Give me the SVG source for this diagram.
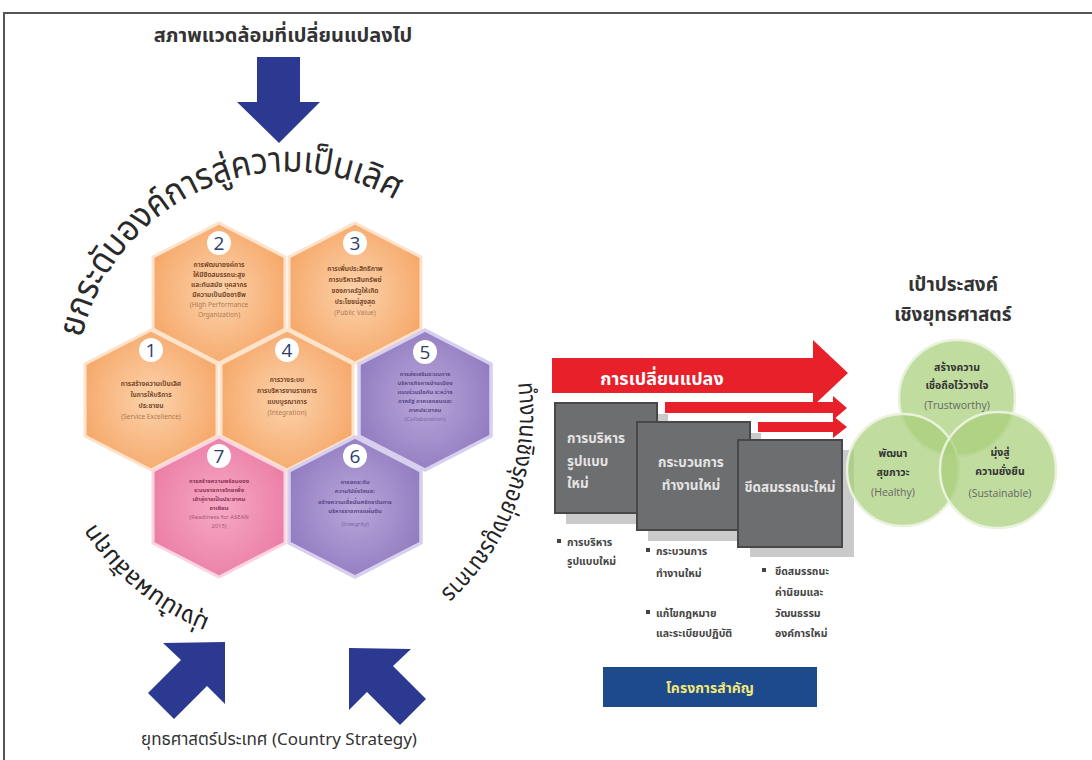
<svg xmlns="http://www.w3.org/2000/svg" width="1092" height="760" viewBox="0 0 1092 760">
<defs>
<style>
.th{font-family:"Noto Sans","Noto Sans Thai","Loma","Garuda","DejaVu Sans",sans-serif}
.hx{text-anchor:middle;font-weight:bold}
.en{font-weight:normal}
.num{font-family:"Open Sans","Liberation Sans",sans-serif;fill:#2c3e6b;text-anchor:middle}
.box{fill:#6d6e70;stroke:#48484a;stroke-width:2}
.shd{fill:#cacaca}
.bt{fill:#e3e3e3;font-weight:bold}
.bl{fill:#444;font-weight:bold}
.gc{fill:#a9ce7a;fill-opacity:0.72;stroke:#e8f2dc;stroke-width:2.5}
.gt{fill:#333;text-anchor:middle;font-weight:bold}
.ge{fill:#666;text-anchor:middle;font-family:"Open Sans","Liberation Sans",sans-serif}
</style>
<radialGradient id="gO" cx="50%" cy="50%" r="60%"><stop offset="0" stop-color="#fcd3ad"/><stop offset="1" stop-color="#f5a463"/></radialGradient>
<radialGradient id="gP" cx="50%" cy="50%" r="60%"><stop offset="0" stop-color="#b9a7da"/><stop offset="1" stop-color="#8d78be"/></radialGradient>
<radialGradient id="gK" cx="50%" cy="50%" r="60%"><stop offset="0" stop-color="#f6a9c4"/><stop offset="1" stop-color="#ea7aa2"/></radialGradient>
<polygon id="hex" points="0,-70 66,-36 66,36 0,70 -66,36 -66,-36"/>
<path id="pTop" d="M 82,338 A 212 212 0 0 1 400,203"/>
<path id="pLeft" d="M 210,618 A 240 240 0 0 1 94,522"/>
<path id="pRight" d="M 518,383 A 240 240 0 0 1 434,598"/>
</defs>
<rect width="1092" height="760" fill="#fff"/>
<path d="M4,760 V13 H1092" fill="none" stroke="#555" stroke-width="2"/>

<g id="top-label">
<text class="th" x="283" y="42" font-size="20" font-weight="bold" fill="#333" text-anchor="middle">สภาพแวดล้อมที่เปลี่ยนแปลงไป</text>
<polygon points="257,57 300,57 300,102 320,102 279,143 237,102 257,102" fill="#2b3990"/>
</g>

<g id="arc-texts">
<text class="th" font-size="36" fill="#2a2a2a"><textPath href="#pTop" textLength="398" lengthAdjust="spacingAndGlyphs">ยกระดับองค์การสู่ความเป็นเลิศ</textPath></text>
<text class="th" font-size="24" fill="#222"><textPath href="#pLeft" textLength="165" lengthAdjust="spacingAndGlyphs">มุ่งเน้นผลสัมฤทธิ์</textPath></text>
<text class="th" font-size="24" fill="#222"><textPath href="#pRight" textLength="232" lengthAdjust="spacingAndGlyphs">ทำงานเชิงรุกอย่างบูรณาการ</textPath></text>
</g>

<g id="hex2" transform="translate(219,293)">
<use href="#hex" fill="url(#gO)" stroke="#fde3cb" stroke-width="3"/>
<circle cx="0" cy="-50" r="12" fill="#fff"/><text class="num" y="-43" font-size="19">2</text>
<text class="th hx" fill="#7a4a2a" font-size="6.6"><tspan x="0" y="-26">การพัฒนาองค์การ</tspan><tspan x="0" y="-16">ให้มีขีดสมรรถนะสูง</tspan><tspan x="0" y="-6">และทันสมัย บุคลากร</tspan><tspan x="0" y="4">มีความเป็นมืออาชีพ</tspan><tspan class="en" x="0" y="14" fill="#b07a50">(High Performance</tspan><tspan class="en" x="0" y="24" fill="#b07a50">Organization)</tspan></text>
</g>
<g id="hex3" transform="translate(355,293)">
<use href="#hex" fill="url(#gO)" stroke="#fde3cb" stroke-width="3"/>
<circle cx="0" cy="-50" r="12" fill="#fff"/><text class="num" y="-43" font-size="19">3</text>
<text class="th hx" fill="#7a4a2a" font-size="6.6"><tspan x="0" y="-22">การเพิ่มประสิทธิภาพ</tspan><tspan x="0" y="-11">การบริหารสินทรัพย์</tspan><tspan x="0" y="0">ของภาครัฐให้เกิด</tspan><tspan x="0" y="11">ประโยชน์สูงสุด</tspan><tspan class="en" x="0" y="22" fill="#b07a50">(Public Value)</tspan></text>
</g>
<g id="hex1" transform="translate(151,400)">
<use href="#hex" fill="url(#gO)" stroke="#fde3cb" stroke-width="3"/>
<circle cx="0" cy="-50" r="12" fill="#fff"/><text class="num" y="-43" font-size="19">1</text>
<text class="th hx" fill="#7a4a2a" font-size="6.6"><tspan x="0" y="-14">การสร้างความเป็นเลิศ</tspan><tspan x="0" y="-3">ในการให้บริการ</tspan><tspan x="0" y="8">ประชาชน</tspan><tspan class="en" x="0" y="19" fill="#b07a50">(Service Excellence)</tspan></text>
</g>
<g id="hex4" transform="translate(287,400)">
<use href="#hex" fill="url(#gO)" stroke="#fde3cb" stroke-width="3"/>
<circle cx="0" cy="-50" r="12" fill="#fff"/><text class="num" y="-43" font-size="19">4</text>
<text class="th hx" fill="#7a4a2a" font-size="6.6"><tspan x="0" y="-18">การวางระบบ</tspan><tspan x="0" y="-7">การบริหารงานราชการ</tspan><tspan x="0" y="4">แบบบูรณาการ</tspan><tspan class="en" x="0" y="15" fill="#b07a50">(Integration)</tspan></text>
</g>
<g id="hex5" transform="translate(425,400)">
<use href="#hex" fill="url(#gP)" stroke="#d8cfee" stroke-width="3.5"/>
<circle cx="0" cy="-48" r="12" fill="#fff"/><text class="num" y="-41" font-size="19">5</text>
<text class="th hx" fill="#5a4a8a" font-size="5.9"><tspan x="0" y="-24">การส่งเสริมระบบการ</tspan><tspan x="0" y="-15">บริหารกิจการบ้านเมือง</tspan><tspan x="0" y="-6">แบบร่วมมือกัน ระหว่าง</tspan><tspan x="0" y="3">ภาครัฐ ภาคเอกชนและ</tspan><tspan x="0" y="12">ภาคประชาชน</tspan><tspan class="en" x="0" y="21" fill="#7b69a8">(Collaboration)</tspan></text>
</g>
<g id="hex7" transform="translate(219,507)">
<use href="#hex" fill="url(#gK)" stroke="#fbd3e1" stroke-width="3"/>
<circle cx="0" cy="-51" r="12" fill="#fff"/><text class="num" y="-44" font-size="19">7</text>
<text class="th hx" fill="#8b3658" font-size="5.9"><tspan x="0" y="-24">การสร้างความพร้อมของ</tspan><tspan x="0" y="-15">ระบบราชการไทยเพื่อ</tspan><tspan x="0" y="-6">เข้าสู่การเป็นประชาคม</tspan><tspan x="0" y="3">อาเซียน</tspan><tspan class="en" x="0" y="12" fill="#a8587a">(Readiness for ASEAN</tspan><tspan class="en" x="0" y="21" fill="#a8587a">2015)</tspan></text>
</g>
<g id="hex6" transform="translate(355,507)">
<use href="#hex" fill="url(#gP)" stroke="#d8cfee" stroke-width="3.5"/>
<circle cx="0" cy="-51" r="12" fill="#fff"/><text class="num" y="-44" font-size="19">6</text>
<text class="th hx" fill="#5a4a8a" font-size="5.9"><tspan x="0" y="-23">การยกระดับ</tspan><tspan x="0" y="-14">ความโปร่งใสและ</tspan><tspan x="0" y="-3">สร้างความเชื่อมั่นศรัทธาในการ</tspan><tspan x="0" y="6">บริหารราชการแผ่นดิน</tspan><tspan class="en" x="0" y="19" fill="#7b69a8">(Integrity)</tspan></text>
</g>

<g id="bottom-arrows" fill="#2b3990">
<polygon points="225,642 225,704 207,686 174,719 148,693 181,660 163,643"/>
<polygon points="349,648 349,710 367,692 400,725 426,699 393,666 411,649"/>
</g>
<text id="country-strategy" class="th" x="279" y="745" font-size="17" fill="#333" text-anchor="middle">ยุทธศาสตร์ประเทศ (Country Strategy)</text>

<g id="change-arrows" fill="#e8202a">
<polygon points="552,358 813,358 813,340 848,373 813,406 813,393 552,393"/>
<polygon points="665,402 833,402 833,396 847,408 833,420 833,413 665,413"/>
<polygon points="758,422 833,422 833,416 847,427 833,438 833,432 758,432"/>
</g>
<text class="th" x="662" y="385" font-size="18" font-weight="bold" fill="#fff" text-anchor="middle">การเปลี่ยนแปลง</text>

<g id="box1">
<rect class="shd" x="566" y="414" width="102" height="110"/>
<rect class="box" x="555" y="403" width="102" height="110"/>
<text class="th bt" font-size="13.5"><tspan x="567" y="443">การบริหาร</tspan><tspan x="567" y="466">รูปแบบ</tspan><tspan x="567" y="488">ใหม่</tspan></text>
</g>
<g id="box2">
<rect class="shd" x="648" y="433" width="113" height="108"/>
<rect class="box" x="637" y="422" width="113" height="108"/>
<text class="th bt" font-size="13.5" text-anchor="middle"><tspan x="691" y="467">กระบวนการ</tspan><tspan x="691" y="490">ทำงานใหม่</tspan></text>
</g>
<g id="box3">
<rect class="shd" x="750" y="450" width="104" height="107"/>
<rect class="box" x="738" y="440" width="104" height="107"/>
<text class="th bt" x="790" y="492" font-size="13.5" text-anchor="middle">ขีดสมรรถนะใหม่</text>
</g>

<g id="bullets">
<rect x="557" y="539" width="4" height="4" fill="#444"/>
<text class="th bl" font-size="10.5"><tspan x="567" y="546">การบริหาร</tspan><tspan x="567" y="565">รูปแบบใหม่</tspan></text>
<rect x="646" y="548" width="4" height="4" fill="#444"/>
<text class="th bl" font-size="10.5"><tspan x="656" y="555">กระบวนการ</tspan><tspan x="656" y="577">ทำงานใหม่</tspan></text>
<rect x="646" y="610" width="4" height="4" fill="#444"/>
<text class="th bl" font-size="10.5"><tspan x="656" y="617">แก้ไขกฎหมาย</tspan><tspan x="656" y="637">และระเบียบปฏิบัติ</tspan></text>
<rect x="762" y="568" width="4" height="4" fill="#444"/>
<text class="th bl" font-size="10.5"><tspan x="775" y="575">ขีดสมรรถนะ</tspan><tspan x="775" y="596">ค่านิยมและ</tspan><tspan x="775" y="617">วัฒนธรรม</tspan><tspan x="775" y="637">องค์การใหม่</tspan></text>
</g>

<g id="key-projects">
<rect x="603" y="667" width="214" height="40" fill="#1c4a8a"/>
<text class="th" x="710" y="693" font-size="14" font-weight="bold" fill="#f2e77a" text-anchor="middle">โครงการสำคัญ</text>
</g>

<g id="goals">
<text class="th" font-size="19" font-weight="bold" fill="#333" text-anchor="middle"><tspan x="953" y="291">เป้าประสงค์</tspan><tspan x="953" y="321">เชิงยุทธศาสตร์</tspan></text>
<circle class="gc" cx="957" cy="398" r="58"/>
<circle class="gc" cx="903" cy="470" r="56"/>
<circle class="gc" cx="998" cy="470" r="58"/>
<text class="th gt" font-size="10.5"><tspan x="957" y="371">สร้างความ</tspan><tspan x="957" y="389">เชื่อถือไว้วางใจ</tspan></text>
<text class="ge" x="957" y="409" font-size="10.5">(Trustworthy)</text>
<text class="th gt" font-size="10.5"><tspan x="893" y="457">พัฒนา</tspan><tspan x="893" y="476">สุขภาวะ</tspan></text>
<text class="ge" x="893" y="496" font-size="10.5">(Healthy)</text>
<text class="th gt" font-size="10.5"><tspan x="1000" y="456">มุ่งสู่</tspan><tspan x="1000" y="475">ความยั่งยืน</tspan></text>
<text class="ge" x="1000" y="497" font-size="10.5">(Sustainable)</text>
</g>
</svg>
